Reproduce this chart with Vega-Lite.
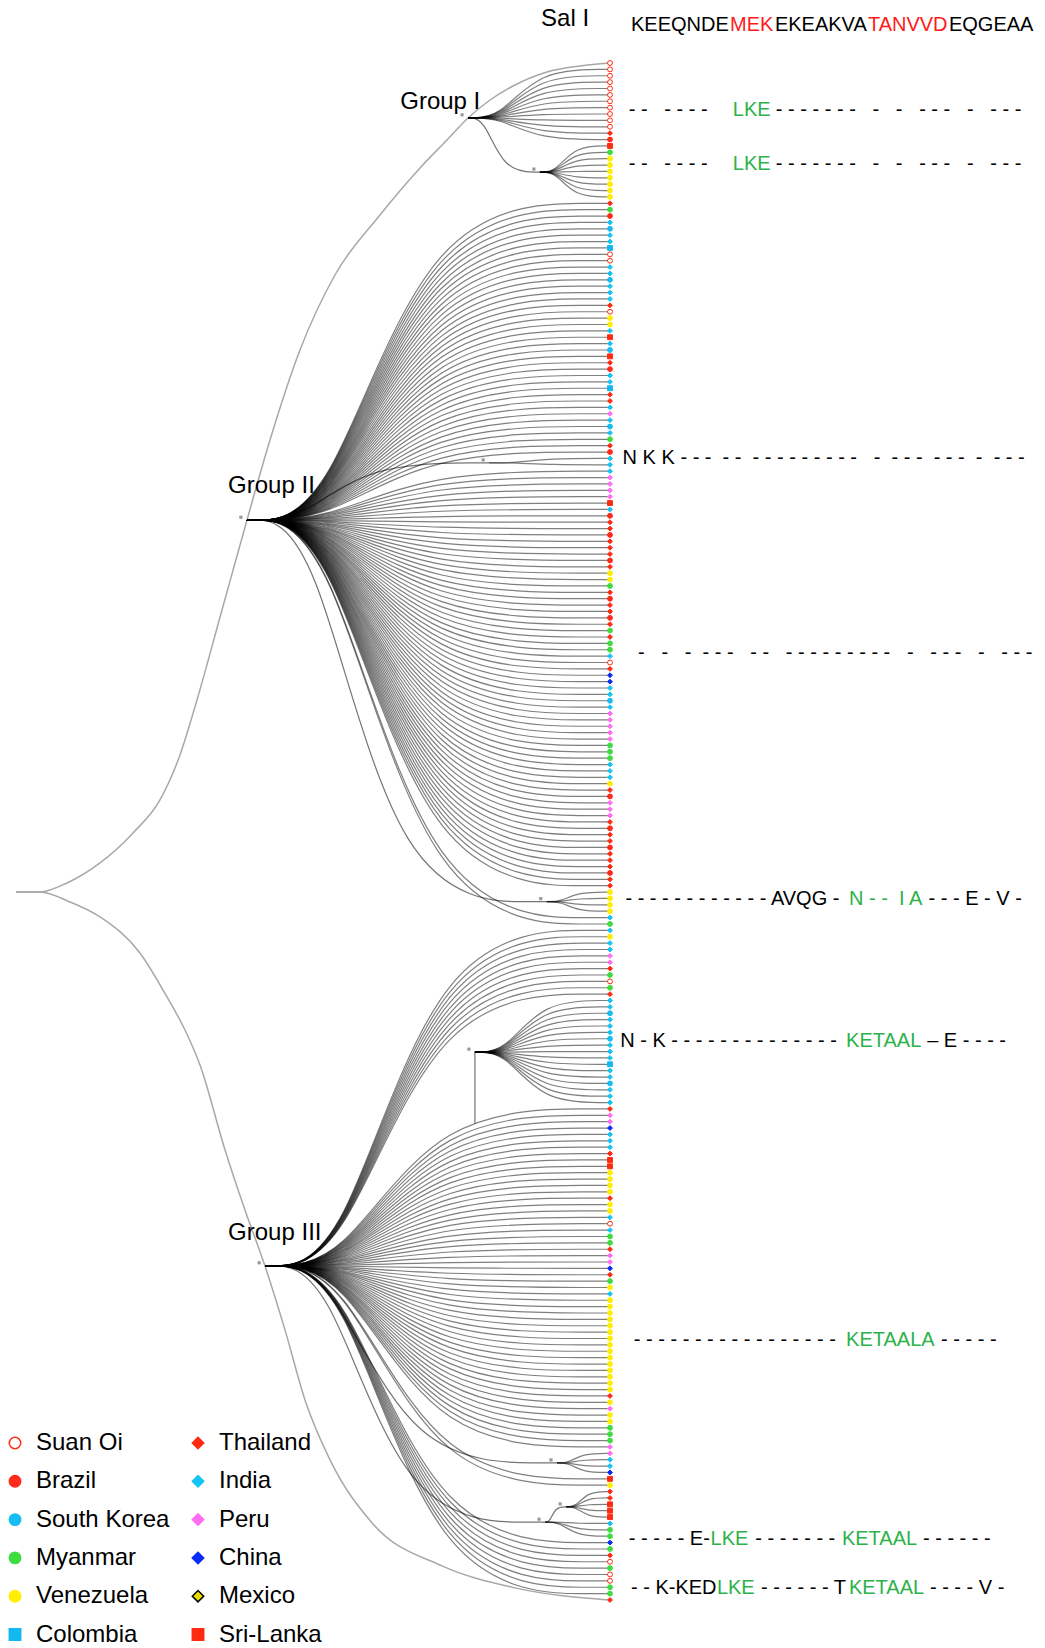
{
"$schema":"https://vega.github.io/schema/vega-lite/v6.json",
"width":1045,"height":1648,"padding":0,"autosize":{"type":"none"},"background":"white",
"config":{"view":{"stroke":null},"font":"Liberation Sans",
"legend":{"orient":"none","legendX":3,"legendY":1431,"columns":2,"symbolSize":130,"labelFontSize":24,"labelFont":"Liberation Sans","labelColor":"#000","rowPadding":14.3,"columnPadding":16,"labelOffset":9,"symbolStrokeWidth":1.5,"title":null}},
"resolve":{"scale":{"x":"independent"}},
"datasets":{
"leaves":[
{"i":0,"c":"Suan Oi","p":"O"},{"i":1,"c":"Suan Oi","p":"G1"},{"i":2,"c":"Suan Oi","p":"G1"},{"i":3,"c":"Suan Oi","p":"G1"},{"i":4,"c":"Suan Oi","p":"G1"},{"i":5,"c":"Suan Oi","p":"G1"},{"i":6,"c":"Suan Oi","p":"G1"},{"i":7,"c":"Suan Oi","p":"G1"},{"i":8,"c":"Suan Oi","p":"G1"},{"i":9,"c":"Suan Oi","p":"G1"},{"i":10,"c":"Suan Oi","p":"G1"},{"i":11,"c":"Thailand","p":"G1"},{"i":12,"c":"Brazil","p":"G1"},
{"i":13,"c":"Sri-Lanka","p":"S1"},{"i":14,"c":"Myanmar","p":"S1"},{"i":15,"c":"Venezuela","p":"S1"},{"i":16,"c":"Venezuela","p":"S1"},{"i":17,"c":"Venezuela","p":"S1"},{"i":18,"c":"Venezuela","p":"S1"},{"i":19,"c":"Venezuela","p":"S1"},{"i":20,"c":"Venezuela","p":"S1"},{"i":21,"c":"Venezuela","p":"S1"},
{"i":22,"c":"Thailand","p":"G2"},{"i":23,"c":"Myanmar","p":"G2"},{"i":24,"c":"Brazil","p":"G2"},{"i":25,"c":"India","p":"G2"},{"i":26,"c":"South Korea","p":"G2"},{"i":27,"c":"India","p":"G2"},{"i":28,"c":"India","p":"G2"},{"i":29,"c":"Colombia","p":"G2"},{"i":30,"c":"Suan Oi","p":"G2"},{"i":31,"c":"Suan Oi","p":"G2"},{"i":32,"c":"India","p":"G2"},{"i":33,"c":"India","p":"G2"},{"i":34,"c":"South Korea","p":"G2"},{"i":35,"c":"India","p":"G2"},{"i":36,"c":"India","p":"G2"},{"i":37,"c":"India","p":"G2"},{"i":38,"c":"Thailand","p":"G2"},{"i":39,"c":"Suan Oi","p":"G2"},{"i":40,"c":"Venezuela","p":"G2"},{"i":41,"c":"Venezuela","p":"G2"},{"i":42,"c":"India","p":"G2"},{"i":43,"c":"Sri-Lanka","p":"G2"},{"i":44,"c":"India","p":"G2"},{"i":45,"c":"South Korea","p":"G2"},{"i":46,"c":"Sri-Lanka","p":"G2"},{"i":47,"c":"Thailand","p":"G2"},{"i":48,"c":"Brazil","p":"G2"},{"i":49,"c":"India","p":"G2"},{"i":50,"c":"India","p":"G2"},{"i":51,"c":"Colombia","p":"G2"},{"i":52,"c":"Thailand","p":"G2"},{"i":53,"c":"Thailand","p":"G2"},{"i":54,"c":"India","p":"G2"},{"i":55,"c":"Peru","p":"G2"},{"i":56,"c":"India","p":"G2"},{"i":57,"c":"South Korea","p":"G2"},{"i":58,"c":"India","p":"G2"},{"i":59,"c":"Myanmar","p":"G2"},{"i":60,"c":"Thailand","p":"G2"},{"i":61,"c":"Brazil","p":"G2"},
{"i":62,"c":"India","p":"Nn"},{"i":63,"c":"India","p":"Nn"},
{"i":64,"c":"India","p":"G2"},{"i":65,"c":"Peru","p":"G2"},{"i":66,"c":"Peru","p":"G2"},{"i":67,"c":"Peru","p":"G2"},{"i":68,"c":"Peru","p":"G2"},{"i":69,"c":"Sri-Lanka","p":"G2"},{"i":70,"c":"India","p":"G2"},{"i":71,"c":"Brazil","p":"G2"},{"i":72,"c":"Thailand","p":"G2"},{"i":73,"c":"Thailand","p":"G2"},{"i":74,"c":"Brazil","p":"G2"},{"i":75,"c":"Thailand","p":"G2"},{"i":76,"c":"Thailand","p":"G2"},{"i":77,"c":"Thailand","p":"G2"},{"i":78,"c":"Brazil","p":"G2"},{"i":79,"c":"Thailand","p":"G2"},{"i":80,"c":"Venezuela","p":"G2"},{"i":81,"c":"Venezuela","p":"G2"},{"i":82,"c":"Myanmar","p":"G2"},{"i":83,"c":"Thailand","p":"G2"},{"i":84,"c":"Brazil","p":"G2"},{"i":85,"c":"Thailand","p":"G2"},{"i":86,"c":"Thailand","p":"G2"},{"i":87,"c":"Brazil","p":"G2"},{"i":88,"c":"Thailand","p":"G2"},{"i":89,"c":"Myanmar","p":"G2"},{"i":90,"c":"Thailand","p":"G2"},{"i":91,"c":"Myanmar","p":"G2"},{"i":92,"c":"Myanmar","p":"G2"},{"i":93,"c":"India","p":"G2"},{"i":94,"c":"Suan Oi","p":"G2"},{"i":95,"c":"Thailand","p":"G2"},{"i":96,"c":"China","p":"G2"},{"i":97,"c":"China","p":"G2"},{"i":98,"c":"India","p":"G2"},{"i":99,"c":"India","p":"G2"},{"i":100,"c":"South Korea","p":"G2"},{"i":101,"c":"India","p":"G2"},{"i":102,"c":"Peru","p":"G2"},{"i":103,"c":"Peru","p":"G2"},{"i":104,"c":"Peru","p":"G2"},{"i":105,"c":"Peru","p":"G2"},{"i":106,"c":"Peru","p":"G2"},{"i":107,"c":"Myanmar","p":"G2"},{"i":108,"c":"Myanmar","p":"G2"},{"i":109,"c":"Myanmar","p":"G2"},{"i":110,"c":"India","p":"G2"},{"i":111,"c":"India","p":"G2"},{"i":112,"c":"India","p":"G2"},{"i":113,"c":"Venezuela","p":"G2"},{"i":114,"c":"Thailand","p":"G2"},{"i":115,"c":"Brazil","p":"G2"},{"i":116,"c":"Peru","p":"G2"},{"i":117,"c":"Peru","p":"G2"},{"i":118,"c":"Peru","p":"G2"},{"i":119,"c":"Thailand","p":"G2"},{"i":120,"c":"Brazil","p":"G2"},{"i":121,"c":"Thailand","p":"G2"},{"i":122,"c":"Thailand","p":"G2"},{"i":123,"c":"Brazil","p":"G2"},{"i":124,"c":"Thailand","p":"G2"},{"i":125,"c":"Thailand","p":"G2"},{"i":126,"c":"Thailand","p":"G2"},{"i":127,"c":"Brazil","p":"G2"},{"i":128,"c":"Thailand","p":"G2"},{"i":129,"c":"Thailand","p":"G2"},
{"i":130,"c":"Venezuela","p":"V"},{"i":131,"c":"Venezuela","p":"V"},{"i":132,"c":"Venezuela","p":"V"},{"i":133,"c":"Venezuela","p":"V"},
{"i":134,"c":"India","p":"G2"},{"i":135,"c":"Myanmar","p":"G2"},
{"i":136,"c":"India","p":"G3"},{"i":137,"c":"Venezuela","p":"G3"},{"i":138,"c":"India","p":"G3"},{"i":139,"c":"India","p":"G3"},{"i":140,"c":"Peru","p":"G3"},{"i":141,"c":"Peru","p":"G3"},{"i":142,"c":"Thailand","p":"G3"},{"i":143,"c":"Myanmar","p":"G3"},{"i":144,"c":"Suan Oi","p":"G3"},{"i":145,"c":"Myanmar","p":"G3"},{"i":146,"c":"Thailand","p":"G3"},
{"i":147,"c":"India","p":"A"},{"i":148,"c":"India","p":"A"},{"i":149,"c":"South Korea","p":"A"},{"i":150,"c":"India","p":"A"},{"i":151,"c":"India","p":"A"},{"i":152,"c":"India","p":"A"},{"i":153,"c":"South Korea","p":"A"},{"i":154,"c":"India","p":"A"},{"i":155,"c":"India","p":"A"},{"i":156,"c":"India","p":"A"},{"i":157,"c":"Colombia","p":"A"},{"i":158,"c":"India","p":"A"},{"i":159,"c":"India","p":"A"},{"i":160,"c":"South Korea","p":"A"},{"i":161,"c":"India","p":"A"},{"i":162,"c":"India","p":"A"},{"i":163,"c":"India","p":"A"},
{"i":164,"c":"Thailand","p":"G3"},{"i":165,"c":"Peru","p":"G3"},{"i":166,"c":"Peru","p":"G3"},{"i":167,"c":"China","p":"G3"},{"i":168,"c":"India","p":"G3"},{"i":169,"c":"India","p":"G3"},{"i":170,"c":"India","p":"G3"},{"i":171,"c":"Thailand","p":"G3"},{"i":172,"c":"Sri-Lanka","p":"G3"},{"i":173,"c":"Sri-Lanka","p":"G3"},{"i":174,"c":"Venezuela","p":"G3"},{"i":175,"c":"Venezuela","p":"G3"},{"i":176,"c":"Venezuela","p":"G3"},{"i":177,"c":"Venezuela","p":"G3"},{"i":178,"c":"Thailand","p":"G3"},{"i":179,"c":"Venezuela","p":"G3"},{"i":180,"c":"Venezuela","p":"G3"},{"i":181,"c":"India","p":"G3"},{"i":182,"c":"Suan Oi","p":"G3"},{"i":183,"c":"India","p":"G3"},{"i":184,"c":"Myanmar","p":"G3"},{"i":185,"c":"Myanmar","p":"G3"},{"i":186,"c":"Thailand","p":"G3"},{"i":187,"c":"Peru","p":"G3"},{"i":188,"c":"Peru","p":"G3"},{"i":189,"c":"China","p":"G3"},{"i":190,"c":"Thailand","p":"G3"},{"i":191,"c":"Myanmar","p":"G3"},{"i":192,"c":"Venezuela","p":"G3"},{"i":193,"c":"India","p":"G3"},{"i":194,"c":"Venezuela","p":"G3"},{"i":195,"c":"Venezuela","p":"G3"},{"i":196,"c":"Venezuela","p":"G3"},{"i":197,"c":"Venezuela","p":"G3"},{"i":198,"c":"Venezuela","p":"G3"},{"i":199,"c":"Venezuela","p":"G3"},{"i":200,"c":"Venezuela","p":"G3"},{"i":201,"c":"Venezuela","p":"G3"},{"i":202,"c":"Venezuela","p":"G3"},{"i":203,"c":"Venezuela","p":"G3"},{"i":204,"c":"Venezuela","p":"G3"},{"i":205,"c":"Venezuela","p":"G3"},{"i":206,"c":"Venezuela","p":"G3"},{"i":207,"c":"Venezuela","p":"G3"},{"i":208,"c":"Venezuela","p":"G3"},{"i":209,"c":"Thailand","p":"G3"},{"i":210,"c":"Venezuela","p":"G3"},{"i":211,"c":"Peru","p":"G3"},{"i":212,"c":"Venezuela","p":"G3"},{"i":213,"c":"Venezuela","p":"G3"},{"i":214,"c":"Myanmar","p":"G3"},{"i":215,"c":"Myanmar","p":"G3"},{"i":216,"c":"Myanmar","p":"G3"},{"i":217,"c":"Peru","p":"G3"},
{"i":218,"c":"Peru","p":"B1"},{"i":219,"c":"India","p":"B1"},{"i":220,"c":"India","p":"B1"},{"i":221,"c":"China","p":"B1"},
{"i":222,"c":"Sri-Lanka","p":"G3"},{"i":223,"c":"Venezuela","p":"G3"},
{"i":224,"c":"Thailand","p":"B2"},{"i":225,"c":"Thailand","p":"B2"},{"i":226,"c":"Sri-Lanka","p":"B2"},{"i":227,"c":"Sri-Lanka","p":"B2"},{"i":228,"c":"Sri-Lanka","p":"B2"},
{"i":229,"c":"India","p":"B3"},{"i":230,"c":"Myanmar","p":"B3"},{"i":231,"c":"Myanmar","p":"B3"},
{"i":232,"c":"China","p":"G3"},{"i":233,"c":"Myanmar","p":"G3"},{"i":234,"c":"Thailand","p":"G3"},{"i":235,"c":"Suan Oi","p":"G3"},{"i":236,"c":"Myanmar","p":"G3"},{"i":237,"c":"Suan Oi","p":"G3"},{"i":238,"c":"Suan Oi","p":"G3"},{"i":239,"c":"Myanmar","p":"G3"},{"i":240,"c":"Myanmar","p":"G3"},{"i":241,"c":"Thailand","p":"O"}
],
"nodes":[
{"id":"G1","x":75.1,"y":8.6},{"id":"S1","x":87.7,"y":17.1},{"id":"G2","x":36.3,"y":71.7},{"id":"Nn","x":78.8,"y":62.7},{"id":"V","x":88.9,"y":131.5},{"id":"G3","x":39.5,"y":188.6},{"id":"A","x":76.3,"y":155.1},{"id":"Ab","x":76.3,"y":166.3},{"id":"B1","x":90.7,"y":219.5},{"id":"B2","x":92.3,"y":226.4},{"id":"B3","x":88.6,"y":228.8}
],
"edges":[
{"e":1,"a":"G1","b":"S1"},{"e":2,"a":"G2","b":"Nn"},{"e":3,"a":"G2","b":"V"},{"e":5,"a":"A","b":"Ab"},{"e":6,"a":"G3","b":"B1"},{"e":7,"a":"G3","b":"B3"},{"e":8,"a":"B3","b":"B2"}
],
"outer":[
{"s":"top","x":-4.21,"y":129.98},{"s":"top","x":0,"y":129.98},{"s":"top","x":4.74,"y":128.57},{"s":"top","x":10.53,"y":125.43},{"s":"top","x":16.32,"y":120.73},{"s":"top","x":21.05,"y":115.55},{"s":"top","x":24.56,"y":108.5},{"s":"top","x":27.54,"y":99.87},{"s":"top","x":31.93,"y":85.76},{"s":"top","x":36.32,"y":71.65},{"s":"top","x":40.35,"y":59.11},{"s":"top","x":45.61,"y":45.0},{"s":"top","x":51.75,"y":33.24},{"s":"top","x":59.65,"y":23.83},{"s":"top","x":66.67,"y":16.46},{"s":"top","x":71.4,"y":12.07},{"s":"top","x":75.09,"y":8.62},{"s":"top","x":78.95,"y":5.8},{"s":"top","x":82.98,"y":3.61},{"s":"top","x":88.95,"y":1.41},{"s":"top","x":94.74,"y":0.47},{"s":"top","x":100,"y":0},
{"s":"bot","x":-4.21,"y":129.98},{"s":"bot","x":0,"y":129.98},{"s":"bot","x":5.26,"y":131.55},{"s":"bot","x":10.53,"y":133.9},{"s":"bot","x":17.54,"y":139.54},{"s":"bot","x":22.28,"y":146.44},{"s":"bot","x":25.44,"y":151.62},{"s":"bot","x":28.07,"y":157.1},{"s":"bot","x":32.46,"y":170.43},{"s":"bot","x":35.96,"y":179.84},{"s":"bot","x":39.47,"y":188.62},{"s":"bot","x":42.98,"y":198.65},{"s":"bot","x":46.49,"y":209.63},{"s":"bot","x":50.88,"y":219.03},{"s":"bot","x":58.42,"y":229.07},{"s":"bot","x":70.53,"y":235.65},{"s":"bot","x":83.33,"y":239.1},{"s":"bot","x":100,"y":241}
],
"labels":[
{"t":"Group I","x":63.2,"y":6.1},{"t":"Group II","x":33.0,"y":66.3},{"t":"Group III","x":33.0,"y":183.4},{"t":"Sal I","x":87.9,"y":-6.9}
],
"ann":[
{"r":-5.96,"c":0,"t":"KEEQNDE","g":"k"},{"r":-5.96,"c":7.09,"t":"MEK","g":"r"},{"r":-5.96,"c":10.3,"t":"EKEAKVA","g":"k"},{"r":-5.96,"c":16.96,"t":"TANVVD","g":"r"},{"r":-5.96,"c":22.76,"t":"EQGEAA","g":"k"},
{"r":7.3,"c":-0.16,"t":"- -\u00a0\u00a0 - - - -","g":"k"},{"r":7.3,"c":7.29,"t":"LKE","g":"g"},{"r":7.3,"c":10.37,"t":"- - - - - - -\u00a0\u00a0 -\u00a0\u00a0 -\u00a0\u00a0 - - -\u00a0\u00a0 -\u00a0\u00a0 - - -","g":"k"},
{"r":15.8,"c":-0.16,"t":"- -\u00a0\u00a0 - - - -","g":"k"},{"r":15.8,"c":7.29,"t":"LKE","g":"g"},{"r":15.8,"c":10.37,"t":"- - - - - - -\u00a0\u00a0 -\u00a0\u00a0 -\u00a0\u00a0 - - -\u00a0\u00a0 -\u00a0\u00a0 - - -","g":"k"},
{"r":62.0,"c":-0.6,"t":"N K K - - -\u00a0 - -\u00a0 - - - - - - - - -\u00a0\u00a0 -\u00a0 - - -\u00a0 - - -\u00a0 -\u00a0 - - -","g":"k"},
{"r":92.5,"c":0.51,"t":"-\u00a0\u00a0 -\u00a0\u00a0 -\u00a0 - - -\u00a0\u00a0 - -\u00a0\u00a0 - - - - - - - - -\u00a0\u00a0 -\u00a0\u00a0 - - -\u00a0\u00a0 -\u00a0\u00a0 - - -","g":"k"},
{"r":131.1,"c":-0.4,"t":"- - - - - - - - - - - - AVQG -","g":"k"},{"r":131.1,"c":15.6,"t":"N - -\u00a0 I A","g":"g"},{"r":131.1,"c":21.3,"t":"- - - E - V -","g":"k"},
{"r":153.3,"c":-0.77,"t":"N - K - - - - - - - - - - - - - -","g":"k"},{"r":153.3,"c":15.4,"t":"KETAAL","g":"g"},{"r":153.3,"c":21.2,"t":"– E - - - -","g":"k"},
{"r":200.3,"c":0.2,"t":"- - - - - - - - - - - - - - - - -","g":"k"},{"r":200.3,"c":15.4,"t":"KETAALA","g":"g"},{"r":200.3,"c":22.2,"t":"- - - - -","g":"k"},
{"r":231.4,"c":-0.16,"t":"- - - - - E-","g":"k"},{"r":231.4,"c":5.7,"t":"LKE","g":"g"},{"r":231.4,"c":8.9,"t":"- - - - - - -","g":"k"},{"r":231.4,"c":15.1,"t":"KETAAL","g":"g"},{"r":231.4,"c":20.9,"t":"- - - - - -","g":"k"},
{"r":239.1,"c":0,"t":"- - K-KED","g":"k"},{"r":239.1,"c":6.15,"t":"LKE","g":"g"},{"r":239.1,"c":9.3,"t":"- - - - - - T","g":"k"},{"r":239.1,"c":15.6,"t":"KETAAL","g":"g"},{"r":239.1,"c":21.4,"t":"- - - - V -","g":"k"}
]
},
"layer":[
{"data":{"name":"outer"},
 "mark":{"type":"line","interpolate":"monotone","stroke":"#a8a8a8","strokeWidth":1.5},
 "encoding":{
  "x":{"field":"x","type":"quantitative","scale":{"domain":[0,100],"range":[40,610],"zero":false,"nice":false},"axis":null},
  "y":{"field":"y","type":"quantitative","scale":{"domain":[0,241],"range":[63,1600],"zero":false,"nice":false},"axis":null},
  "detail":{"field":"s","type":"nominal"}}},
{"data":{"name":"leaves"},
 "transform":[
  {"filter":"datum.p != 'O'"},
  {"lookup":"p","from":{"data":{"name":"nodes"},"key":"id","fields":["x","y"]},"as":["px","py"]},
  {"calculate":"[datum.px, datum.px + 0.22*(100-datum.px), datum.px + 0.5*(100-datum.px), 100]","as":"lx"},
  {"calculate":"[datum.py, datum.py, datum.i, datum.i]","as":"ly"},
  {"calculate":"[0,1,2,3]","as":"k"},
  {"flatten":["lx","ly","k"]}],
 "mark":{"type":"line","interpolate":"basis","stroke":"#000000","strokeWidth":1.2,"opacity":0.5},
 "encoding":{
  "x":{"field":"lx","type":"quantitative","scale":{"domain":[0,100],"range":[40,610],"zero":false,"nice":false},"axis":null},
  "y":{"field":"ly","type":"quantitative","axis":null},
  "detail":{"field":"i","type":"nominal"},
  "order":{"field":"k","type":"quantitative"}}},
{"data":{"name":"edges"},
 "transform":[
  {"lookup":"a","from":{"data":{"name":"nodes"},"key":"id","fields":["x","y"]},"as":["ax","ay"]},
  {"lookup":"b","from":{"data":{"name":"nodes"},"key":"id","fields":["x","y"]},"as":["bx","by"]},
  {"calculate":"[datum.ax, datum.ax + 0.22*(datum.bx-datum.ax), datum.ax + 0.5*(datum.bx-datum.ax), datum.bx]","as":"lx"},
  {"calculate":"[datum.ay, datum.ay, datum.by, datum.by]","as":"ly"},
  {"calculate":"[0,1,2,3]","as":"k"},
  {"flatten":["lx","ly","k"]}],
 "mark":{"type":"line","interpolate":"basis","stroke":"#000000","strokeWidth":1.2,"opacity":0.55},
 "encoding":{
  "x":{"field":"lx","type":"quantitative","scale":{"domain":[0,100],"range":[40,610],"zero":false,"nice":false},"axis":null},
  "y":{"field":"ly","type":"quantitative","axis":null},
  "detail":{"field":"e","type":"nominal"},
  "order":{"field":"k","type":"quantitative"}}},
{"data":{"name":"nodes"},
 "transform":[{"filter":"datum.id != 'Ab'"}],
 "mark":{"type":"square","size":10,"color":"#808080","opacity":0.8,"xOffset":-6,"yOffset":-3},
 "encoding":{
  "x":{"field":"x","type":"quantitative","scale":{"domain":[0,100],"range":[40,610],"zero":false,"nice":false},"axis":null},
  "y":{"field":"y","type":"quantitative","axis":null}}},
{"data":{"name":"leaves"},
 "mark":{"type":"point","filled":true,"size":24,"strokeWidth":1,"opacity":1},
 "encoding":{
  "x":{"datum":100,"type":"quantitative","scale":{"domain":[0,100],"range":[40,610],"zero":false,"nice":false},"axis":null},
  "y":{"field":"i","type":"quantitative","axis":null},
  "shape":{"field":"c","type":"nominal","scale":{"domain":["Suan Oi","Brazil","South Korea","Myanmar","Venezuela","Colombia","Thailand","India","Peru","China","Mexico","Sri-Lanka"],"range":["circle","circle","circle","circle","circle","square","diamond","diamond","diamond","diamond","diamond","square"]}},
  "fill":{"field":"c","type":"nominal","scale":{"domain":["Suan Oi","Brazil","South Korea","Myanmar","Venezuela","Colombia","Thailand","India","Peru","China","Mexico","Sri-Lanka"],"range":["#ffffff","#ff2a1a","#16bdf0","#3fdc3f","#ffee00","#12b8f0","#ff2a12","#14c4f2","#ff6ef0","#0a2cf5","#e8dc00","#ff2a10"]}},
  "stroke":{"field":"c","type":"nominal","scale":{"domain":["Suan Oi","Brazil","South Korea","Myanmar","Venezuela","Colombia","Thailand","India","Peru","China","Mexico","Sri-Lanka"],"range":["#ff2a12","#ff2a1a","#16bdf0","#3fdc3f","#ffee00","#12b8f0","#ff2a12","#14c4f2","#ff6ef0","#0a2cf5","#000000","#ff2a10"]}}}},
{"data":{"name":"labels"},
 "mark":{"type":"text","align":"left","baseline":"middle","fontSize":24,"font":"Liberation Sans","color":"#000"},
 "encoding":{
  "x":{"field":"x","type":"quantitative","scale":{"domain":[0,100],"range":[40,610],"zero":false,"nice":false},"axis":null},
  "y":{"field":"y","type":"quantitative","axis":null},
  "text":{"field":"t"}}},
{"data":{"name":"ann"},
 "mark":{"type":"text","align":"left","baseline":"middle","fontSize":20,"font":"Liberation Sans"},
 "encoding":{
  "x":{"field":"c","type":"quantitative","scale":{"domain":[0,29],"range":[631,1036.1],"zero":false,"nice":false},"axis":null},
  "y":{"field":"r","type":"quantitative","axis":null},
  "text":{"field":"t"},
  "color":{"field":"g","type":"nominal","scale":{"domain":["k","g","r"],"range":["#000000","#2db24a","#ff1a1a"]},"legend":null}}}
]
}
